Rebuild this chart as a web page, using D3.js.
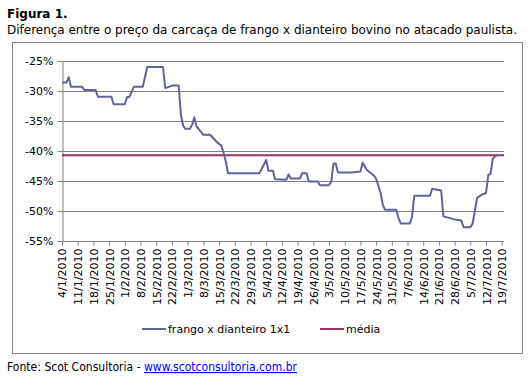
<!DOCTYPE html>
<html>
<head>
<meta charset="utf-8">
<script src="https://cdn.jsdelivr.net/npm/d3@7.9.0/dist/d3.min.js"></script>
<style>
  body { margin: 0; background: #fff; }
  svg { display: block; font-family: "DejaVu Sans", Verdana, sans-serif; }
</style>
</head>
<body>
<svg id="chart" width="529" height="380"></svg>
<script>
// dates (d/m, 2010) and values (%)
const serieDates = [
  "4/1","6/1","7/1","8/1","13/1","14/1","19/1","20/1","26/1","27/1",
  "1/2","2/2","3/2","5/2","9/2","11/2","18/2","19/2","20/2","22/2","25/2","26/2","27/2","28/2",
  "2/3","3/3","4/3","5/3","8/3","11/3","14/3","16/3","17/3","18/3","19/3",
  "2/4","5/4","6/4","8/4","9/4","14/4","15/4","16/4","20/4","21/4","23/4","24/4","28/4","29/4",
  "3/5","4/5","5/5","6/5","7/5","13/5","17/5","18/5","19/5","20/5","22/5","23/5","24/5","26/5","27/5","28/5",
  "2/6","3/6","4/6","8/6","9/6","10/6","17/6","18/6","22/6","23/6","25/6","28/6",
  "1/7","2/7","5/7","6/7","7/7","8/7","10/7","12/7","13/7","14/7","15/7","16/7","17/7"
];
const serieValues = [
  -28.6,-28.6,-27.7,-29.3,-29.3,-29.85,-29.85,-30.95,-30.95,-32.2,
  -32.2,-31.0,-31.0,-29.3,-29.3,-26.0,-26.0,-29.5,-29.4,-29.1,-29.1,-34.0,-35.8,-36.3,
  -36.3,-35.6,-34.4,-35.9,-37.3,-37.3,-38.5,-39.1,-40.3,-41.7,-43.7,
  -43.7,-41.5,-43.3,-43.3,-44.7,-44.8,-43.9,-44.6,-44.6,-43.7,-43.7,-45.1,-45.1,-45.7,
  -45.7,-45.1,-42.1,-42.1,-43.6,-43.6,-43.4,-41.9,-42.6,-43.2,-43.8,-44.1,-44.6,-47.0,-49.0,-49.8,
  -49.8,-51.2,-52.1,-52.1,-51.0,-47.45,-47.45,-46.3,-46.6,-50.9,-51.1,-51.4,
  -51.6,-52.7,-52.7,-52.1,-50.0,-47.85,-47.3,-47.0,-44.0,-43.8,-41.3,-40.9,-40.7
];
const mediaValue = -40.7;

const xTickLabels = [
  "4/1/2010","11/1/2010","18/1/2010","25/1/2010","1/2/2010","8/2/2010","15/2/2010","22/2/2010",
  "1/3/2010","8/3/2010","15/3/2010","22/3/2010","29/3/2010","5/4/2010","12/4/2010","19/4/2010",
  "26/4/2010","3/5/2010","10/5/2010","17/5/2010","24/5/2010","31/5/2010","7/6/2010","14/6/2010",
  "21/6/2010","28/6/2010","5/7/2010","12/7/2010","19/7/2010"
];
const yTicks = [-25, -30, -35, -40, -45, -50, -55];

const seriesNames = ["frango x dianteiro 1x1", "média"];
const seriesColors = ["#62629c", "#993366"];

const parseDM = s => {
  const [d, m, yr] = s.split("/").map(Number);
  return new Date(Date.UTC(yr || 2010, m - 1, d));
};

const data = serieDates.map((s, i) => ({ date: parseDM(s), value: serieValues[i] }));

const svg = d3.select("#chart");
const plotLeft = 62, plotRight = 504, plotTop = 61, plotBottom = 241;

const x = d3.scaleUtc()
  .domain([new Date(Date.UTC(2010, 0, 4)), new Date(Date.UTC(2010, 6, 20))])
  .range([plotLeft, plotRight]);
const y = d3.scaleLinear().domain([-55, -25]).range([plotBottom, plotTop]);

// titles
svg.append("text").attr("x", 7).attr("y", 17.5)
  .attr("font-size", 12).attr("font-weight", "bold").attr("fill", "#000")
  .text("Figura 1.");
svg.append("text").attr("x", 7).attr("y", 33.5)
  .attr("font-size", 12).attr("fill", "#000")
  .attr("textLength", 510).attr("lengthAdjust", "spacingAndGlyphs")
  .text("Diferença entre o preço da carcaça de frango x dianteiro bovino no atacado paulista.");

// chart box
svg.append("rect").attr("x", 12.5).attr("y", 42.5).attr("width", 510).attr("height", 311)
  .attr("fill", "#fff").attr("stroke", "#868686");

// gridlines
svg.append("g").selectAll("line").data(yTicks).join("line")
  .attr("x1", plotLeft).attr("x2", plotRight)
  .attr("y1", d => Math.round(y(d)) + 0.5).attr("y2", d => Math.round(y(d)) + 0.5)
  .attr("stroke", "#808080");

// y axis
const yAxis = svg.append("g").attr("transform", `translate(${plotLeft + 0.5},0)`)
  .call(d3.axisLeft(y).tickValues(yTicks).tickSize(5).tickPadding(4)
    .tickFormat(d => d + "%"));
yAxis.select(".domain").attr("stroke", "#808080");
yAxis.selectAll(".tick line").attr("stroke", "#808080");
yAxis.selectAll(".tick text").attr("font-size", 11).attr("fill", "#000")
  .attr("font-family", "DejaVu Sans, sans-serif");

// x axis
const xTickDates = xTickLabels.map(parseDM);
const xAxis = svg.append("g").attr("transform", `translate(0,${plotBottom + 0.5})`)
  .call(d3.axisBottom(x).tickValues(xTickDates).tickSize(4)
    .tickFormat((d, i) => xTickLabels[i]));
xAxis.select(".domain").attr("stroke", "#808080").attr("d", `M${plotLeft},0H${plotRight}`);
xAxis.selectAll(".tick line").attr("stroke", "#808080");
xAxis.selectAll(".tick text")
  .attr("font-size", 11).attr("fill", "#000")
  .attr("font-family", "DejaVu Sans, sans-serif")
  .attr("text-anchor", "end")
  .attr("transform", "rotate(-90)")
  .attr("x", -7).attr("y", 0).attr("dy", "0.36em");

// média line
svg.append("line")
  .attr("x1", plotLeft).attr("x2", plotRight)
  .attr("y1", y(mediaValue)).attr("y2", y(mediaValue))
  .attr("stroke", seriesColors[1]).attr("stroke-width", 2);

// series line
const line = d3.line().x(d => x(d.date)).y(d => y(d.value));
svg.append("path").datum(data)
  .attr("d", line).attr("fill", "none")
  .attr("stroke", seriesColors[0]).attr("stroke-width", 2)
  .attr("stroke-linejoin", "round");

// legend
const legendX = [142, 320];
const legend = svg.append("g").selectAll("g").data(seriesNames).join("g")
  .attr("transform", (d, i) => `translate(${legendX[i]},329)`);
legend.append("line").attr("x1", 0).attr("x2", 24)
  .attr("stroke", (d, i) => seriesColors[i]).attr("stroke-width", 2);
legend.append("text").attr("x", 26).attr("dy", "0.35em")
  .attr("font-size", 11).attr("fill", "#000")
  .text(d => d);

// footer
const footer = svg.append("text").attr("x", 7).attr("y", 371)
  .attr("font-size", 11.5).attr("fill", "#000")
  .attr("textLength", 290).attr("lengthAdjust", "spacingAndGlyphs");
footer.append("tspan").text("Fonte: Scot Consultoria - ");
footer.append("tspan").attr("fill", "#0000ff").attr("text-decoration", "underline")
  .text("www.scotconsultoria.com.br");
</script>
</body>
</html>
